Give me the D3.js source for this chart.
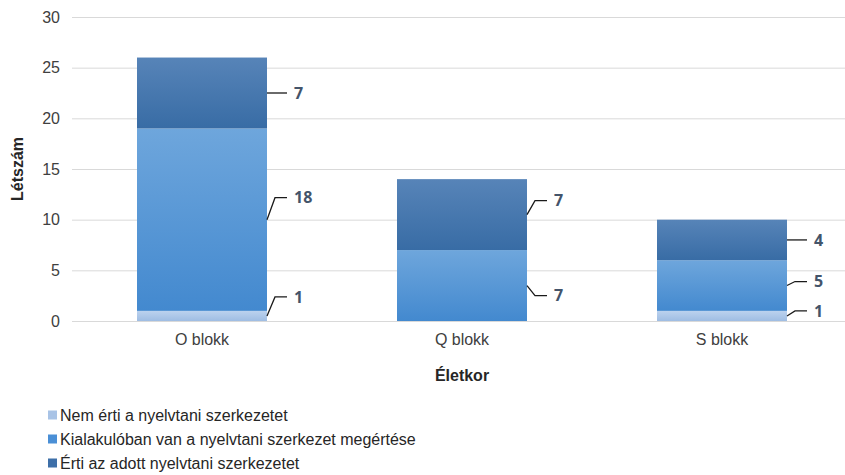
<!DOCTYPE html>
<html>
<head>
<meta charset="utf-8">
<script src="https://cdn.jsdelivr.net/npm/d3@7"></script>
<style>
  body { margin: 0; background: #fff; }
  svg { font-family: "Liberation Sans", Arial, sans-serif; }
</style>
</head>
<body>
<div id="chart"></div>
<script>
// data
const blocks = ["O blokk", "Q blokk", "S blokk"];
const seriesNames = [
  "Nem érti a nyelvtani szerkezetet",
  "Kialakulóban van a nyelvtani szerkezet megértése",
  "Érti az adott nyelvtani szerkezetet"
];
const nemErti = [1, 0, 1];
const kialakuloban = [18, 7, 5];
const erti = [7, 7, 4];
const yTicks = [0, 5, 10, 15, 20, 25, 30];

// label nudges (px) so the data labels don't collide, per block/series
const labelShift = [[-19, -22, 0], [0, 10, -14], [-5, -4, 0]];

const W = 845, H = 475, M = {t: 17, r: -7, b: 154, l: 72};
const FONT = "Liberation Sans, Arial, sans-serif";
const svg = d3.select("#chart").append("svg")
  .attr("width", W)
  .attr("height", H);

const defs = svg.append("defs");
const grads = [
  ["g0", "#bcd2ee", "#9fbde3"],
  ["g1", "#6ea6dc", "#4389cf"],
  ["g2", "#5784b8", "#386ca5"]
];
grads.forEach(([id, c1, c2]) => {
  const g = defs.append("linearGradient").attr("id", id)
    .attr("x1", 0).attr("y1", 0).attr("x2", 0).attr("y2", 1);
  g.append("stop").attr("offset", "0%").attr("stop-color", c1);
  g.append("stop").attr("offset", "100%").attr("stop-color", c2);
});
const legendColors = ["#a8c3e6", "#4a8fd6", "#3d6fa8"];

const x = d3.scaleBand()
  .domain(blocks)
  .range([M.l, W - M.r])
  .paddingInner(0.5)
  .paddingOuter(0.25);

const y = d3.scaleLinear()
  .domain([0, 30])
  .range([H - M.b, M.t]);

// gridlines
svg.append("g")
  .selectAll("line")
  .data(yTicks)
  .enter()
  .append("line")
  .attr("x1", M.l)
  .attr("x2", W)
  .attr("y1", d => y(d) + 0.5)
  .attr("y2", d => y(d) + 0.5)
  .attr("stroke", "#d9d9d9")
  .attr("stroke-width", 1);

// y axis labels
const yAxis = svg.append("g")
  .attr("transform", `translate(${M.l - 12},0)`)
  .call(d3.axisLeft(y).tickValues(yTicks).tickSize(0).tickPadding(0));
yAxis.select(".domain").remove();
yAxis.selectAll("text")
  .attr("font-size", 16)
  .attr("fill", "#404040")
  .attr("font-family", FONT);

// x axis labels
const xAxis = svg.append("g")
  .attr("transform", `translate(0,${y(0) + 13})`)
  .call(d3.axisBottom(x).tickSize(0).tickPadding(0));
xAxis.select(".domain").remove();
xAxis.selectAll("text")
  .attr("font-size", 16)
  .attr("fill", "#404040")
  .attr("font-family", FONT);

// stack
const table = blocks.map((b, i) => ({block: b, s0: nemErti[i], s1: kialakuloban[i], s2: erti[i], idx: i}));
const stack = d3.stack().keys(["s0", "s1", "s2"]);
const layers = stack(table);

layers.forEach((layer, si) => {
  svg.append("g")
    .selectAll("rect")
    .data(layer.filter(d => d[1] > d[0]))
    .enter()
    .append("rect")
    .attr("x", d => x(d.data.block))
    .attr("y", d => y(d[1]))
    .attr("width", x.bandwidth())
    .attr("height", d => y(d[0]) - y(d[1]))
    .attr("fill", `url(#g${si})`);
});

// data labels with leader lines
layers.forEach((layer, si) => {
  layer.filter(d => d[1] > d[0]).forEach(d => {
    const bi = d.data.idx;
    const x0 = x(d.data.block) + x.bandwidth();
    const yMid = y((d[0] + d[1]) / 2);
    const yl = yMid + labelShift[bi][si];
    const path = yl === yMid
      ? `M${x0},${yMid}H${x0 + 20}`
      : `M${x0},${yMid}L${x0 + 8},${yl}H${x0 + 20}`;
    svg.append("path")
      .attr("d", path)
      .attr("fill", "none")
      .attr("stroke", "#1a1a1a")
      .attr("stroke-width", 1.3);
    svg.append("text")
      .attr("x", x0 + 27)
      .attr("y", yl)
      .attr("dy", "0.36em")
      .attr("font-family", "Open Sans, sans-serif")
      .attr("font-weight", "bold")
      .attr("font-size", 16)
      .attr("fill", "#44546a")
      .text(d[1] - d[0]);
  });
});

// axis titles
svg.append("text")
  .attr("transform", `translate(23,${y(15)}) rotate(-90)`)
  .attr("text-anchor", "middle")
  .attr("font-weight", "bold")
  .attr("font-size", 16)
  .attr("fill", "#262626")
  .text("Létszám");

svg.append("text")
  .attr("x", x("Q blokk") + x.bandwidth() / 2)
  .attr("y", 381)
  .attr("text-anchor", "middle")
  .attr("font-weight", "bold")
  .attr("font-size", 16)
  .attr("fill", "#262626")
  .text("Életkor");

// legend
const legend = svg.append("g").attr("transform", "translate(48,415)");
seriesNames.forEach((name, i) => {
  const row = legend.append("g").attr("transform", `translate(0,${i * 24})`);
  row.append("rect")
    .attr("x", 0).attr("y", -4.5)
    .attr("width", 9).attr("height", 9)
    .attr("fill", legendColors[i]);
  row.append("text")
    .attr("x", 12)
    .attr("y", 0)
    .attr("dy", "0.36em")
    .attr("font-size", 16)
    .attr("fill", "#262626")
    .text(name);
});
</script>
</body>
</html>
